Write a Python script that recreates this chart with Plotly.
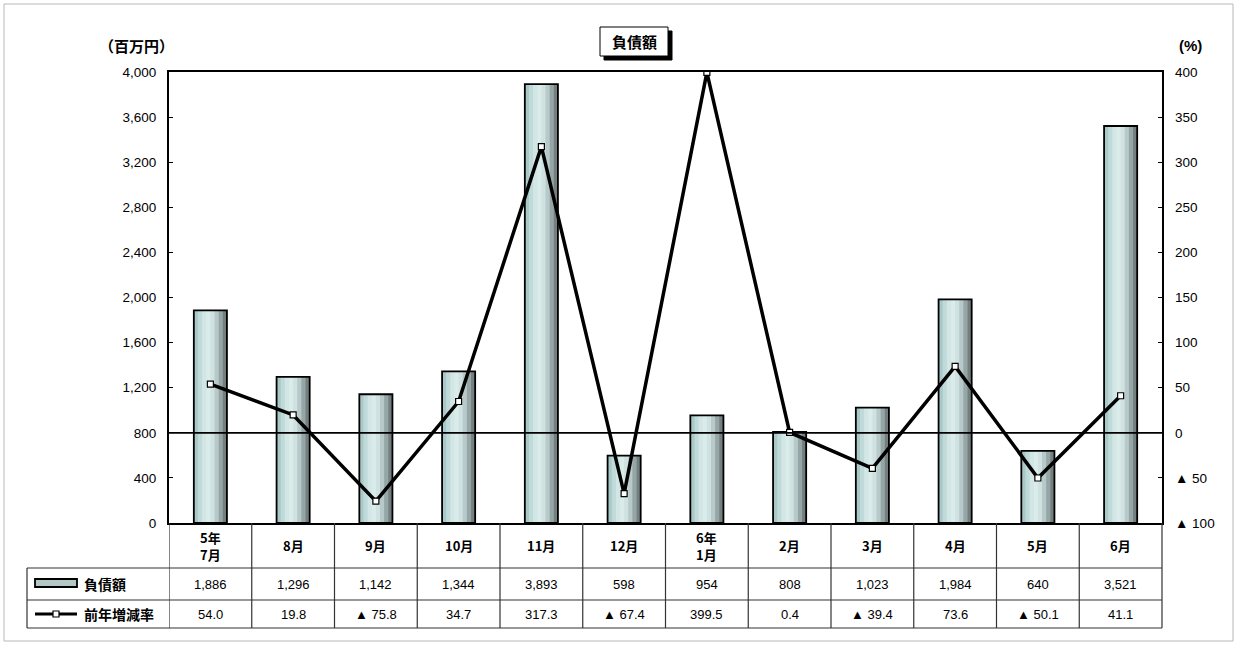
import plotly.graph_objects as go

categories = ["5年<br>7月", "8月", "9月", "10月", "11月", "12月", "6年<br>1月", "2月", "3月", "4月", "5月", "6月"]
debt = [1886, 1296, 1142, 1344, 3893, 598, 954, 808, 1023, 1984, 640, 3521]
rate = [54.0, 19.8, -75.8, 34.7, 317.3, -67.4, 399.5, 0.4, -39.4, 73.6, -50.1, 41.1]
left_ticks = list(range(0, 4001, 400))
right_ticks = list(range(-100, 401, 50))

W, H = 1237, 647
L, R, T, B = 169, 1162, 72, 523
PW, PH = R - L, B - T


def X(px):
    return (px - L) / PW


def Y(py):
    return (B - py) / PH


FONT = "Liberation Sans, Arial, Noto Sans CJK JP"
JFONT = "Noto Sans CJK JP, Liberation Sans"

xs = list(range(len(categories)))
fig = go.Figure()

# gradient bars built from overlapping slices
grad = ["#a9c8c8", "#bfdad9", "#d2e7e5", "#d9ecea", "#cfe1e0", "#b7c9c9", "#96a6a6", "#748080"]
bw = 0.4
n = len(grad)
sw = bw / n
for k, c in enumerate(grad):
    wk = sw * 1.8 if k < n - 1 else sw
    fig.add_trace(go.Bar(x=xs, y=debt, width=wk, offset=-bw / 2 + k * sw,
                         marker=dict(color=c, line=dict(width=0)), showlegend=False,
                         hoverinfo="skip"))
fig.add_trace(go.Bar(x=xs, y=debt, width=bw, offset=-bw / 2, name="負債額",
                     marker=dict(color="rgba(0,0,0,0)", line=dict(color="black", width=1.8)),
                     showlegend=False))

fig.add_trace(go.Scatter(x=xs, y=rate, yaxis="y2", mode="lines+markers", name="前年増減率",
                         line=dict(color="black", width=3.5),
                         marker=dict(symbol="square", size=6, color="white",
                                     line=dict(color="black", width=1.2)),
                         showlegend=False))

right_text = [("▲ " + str(abs(v))) if v < 0 else str(v) for v in right_ticks]

fig.update_layout(
    width=W, height=H, margin=dict(l=L, r=W - R, t=T, b=H - B),
    paper_bgcolor="white", plot_bgcolor="white", barmode="overlay",
    font=dict(family=FONT, size=13, color="black"),
    xaxis=dict(range=[-0.5, len(categories) - 0.5], showticklabels=False, ticks="",
               showgrid=False, zeroline=False, showline=True, linecolor="black",
               linewidth=2, mirror=True),
    yaxis=dict(range=[0, 4000], tickvals=left_ticks, ticktext=[f"{v:,}" for v in left_ticks],
               ticks="inside", ticklen=4, tickcolor="black", showgrid=False, zeroline=False,
               showline=True, linecolor="black", linewidth=2, mirror=True,
               tickfont=dict(family=FONT, size=13.5, color="black"), ticklabelstandoff=8),
    yaxis2=dict(range=[-100, 400], overlaying="y", side="right", tickvals=right_ticks,
                ticktext=right_text, ticks="inside", ticklen=4, tickcolor="black",
                showgrid=False, zeroline=False, showline=False,
                tickfont=dict(family=FONT, size=13.5, color="black"), ticklabelstandoff=12),
)

shapes = []
# outer frame
shapes.append(dict(type="rect", xref="paper", yref="paper", x0=X(4), x1=X(1233), y0=Y(4), y1=Y(641),
                   line=dict(color="#b8b8b8", width=1), layer="below"))
# zero line of rate axis
shapes.append(dict(type="line", xref="paper", yref="y2", x0=0, x1=1, y0=0, y1=0,
                   line=dict(color="black", width=1.8)))
# table lines
tl = "#333333"
for py in [568, 600, 628]:
    shapes.append(dict(type="line", xref="paper", yref="paper", x0=X(27), x1=X(R), y0=Y(py), y1=Y(py),
                       line=dict(color=tl, width=1.2)))
shapes.append(dict(type="line", xref="paper", yref="paper", x0=X(27), x1=X(27), y0=Y(568), y1=Y(628),
                   line=dict(color=tl, width=1.2)))
shapes.append(dict(type="line", xref="paper", yref="paper", x0=X(R), x1=X(R), y0=Y(B), y1=Y(628),
                   line=dict(color=tl, width=1.2)))
for i in range(len(categories)):
    shapes.append(dict(type="line", xref="x", yref="paper", x0=i - 0.5, x1=i - 0.5, y0=Y(B), y1=Y(628),
                       line=dict(color=tl, width=1.2)))
# legend symbols
shapes.append(dict(type="rect", xref="paper", yref="paper", x0=X(35), x1=X(77), y0=Y(587), y1=Y(579),
                   fillcolor="#b3c7c7", line=dict(color="black", width=1.8)))
shapes.append(dict(type="line", xref="paper", yref="paper", x0=X(35), x1=X(77), y0=Y(614), y1=Y(614),
                   line=dict(color="black", width=3)))
shapes.append(dict(type="rect", xref="paper", yref="paper", x0=X(53), x1=X(59), y0=Y(617), y1=Y(611),
                   fillcolor="white", line=dict(color="black", width=1.2)))
# title box with drop shadow
shapes.append(dict(type="rect", xref="paper", yref="paper", x0=X(604), x1=X(672), y0=Y(31), y1=Y(60),
                   fillcolor="black", line=dict(color="black", width=1)))
shapes.append(dict(type="rect", xref="paper", yref="paper", x0=X(600), x1=X(668), y0=Y(27), y1=Y(56),
                   fillcolor="white", line=dict(color="black", width=1)))
fig.update_layout(shapes=shapes)

ann = []


def A(x, y, text, xref="paper", size=13, family=FONT, xanchor="center", **kw):
    d = dict(x=x, y=y, xref=xref, yref="paper", text=text, showarrow=False,
             xanchor=xanchor, yanchor="middle", font=dict(family=family, size=size, color="black"))
    d.update(kw)
    return d


for i, c in enumerate(categories):
    ann.append(A(i, Y(545.5), f"<b>{c}</b>", xref="x", family=JFONT, size=13))
    ann.append(A(i, Y(584), f"{debt[i]:,}", xref="x"))
    r = rate[i]
    rt = f"▲ {abs(r):.1f}" if r < 0 else f"{r:.1f}"
    ann.append(A(i, Y(614), rt, xref="x"))
ann.append(A(X(82), Y(584), "<b>負債額</b>", family=JFONT, size=14, xanchor="left"))
ann.append(A(X(82), Y(614), "<b>前年増減率</b>", family=JFONT, size=14, xanchor="left"))
# axis unit labels
ann.append(A(X(136), Y(45), "<b>（百万円）</b>", family=JFONT, size=15))
ann.append(A(X(1190), Y(45), "<b>(%)</b>", size=15))
# title
ann.append(A(X(634), Y(41.5), "<b>負債額</b>", family=JFONT, size=15))
fig.update_layout(annotations=ann)

fig.write_html("out.html")
